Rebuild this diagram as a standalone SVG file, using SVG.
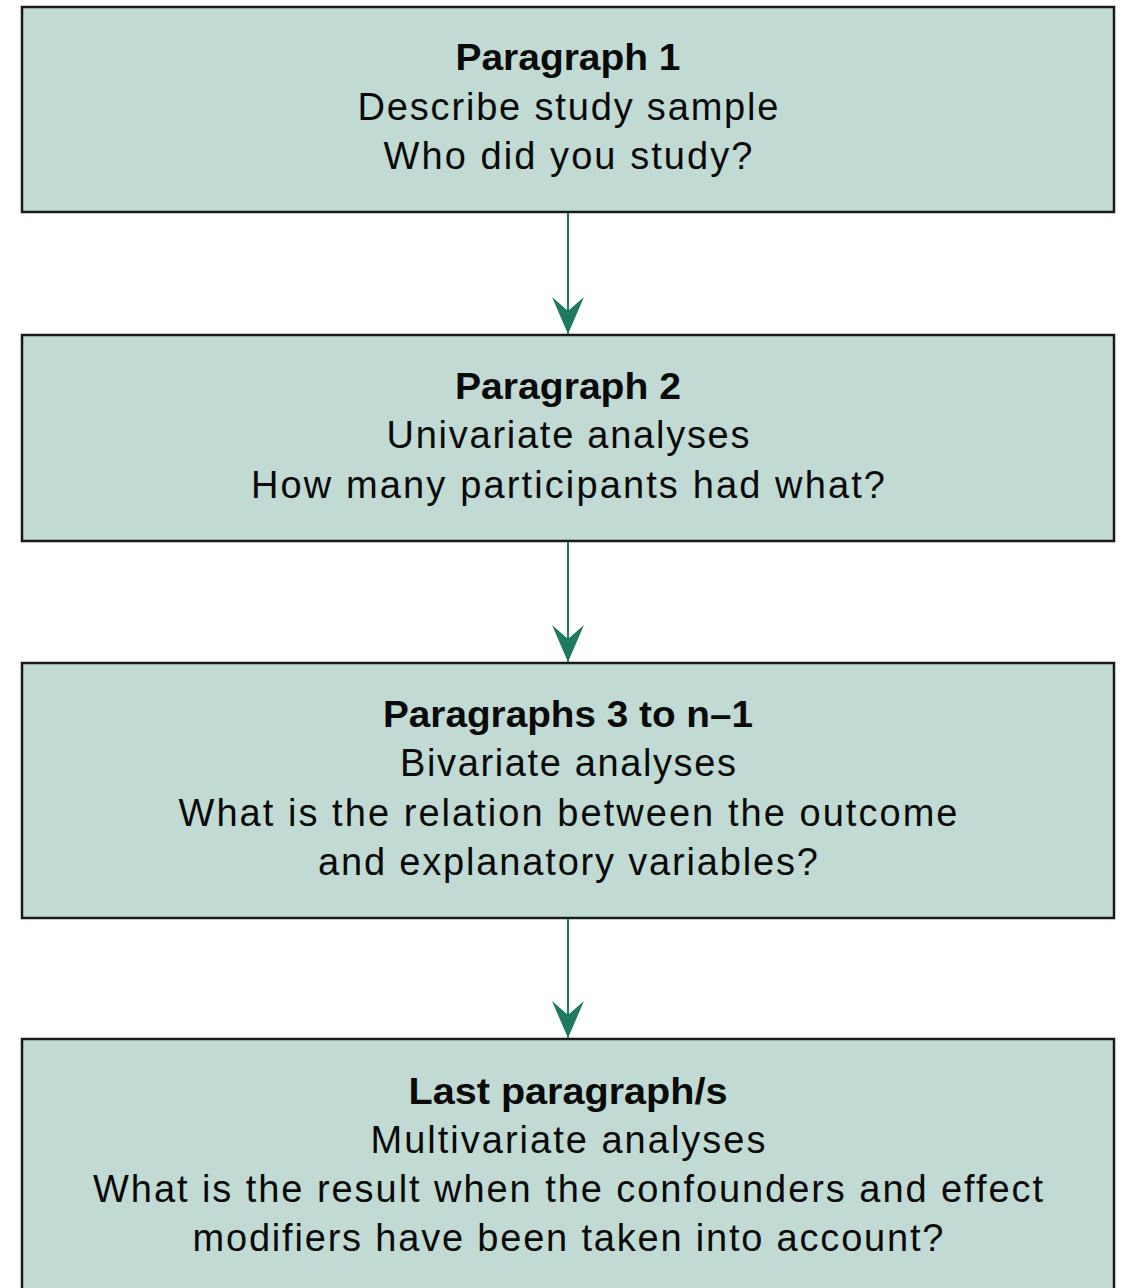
<svg xmlns="http://www.w3.org/2000/svg" width="1125" height="1288" viewBox="0 0 1125 1288">
<style>
.box{fill:#c1dbd4;stroke:#1a1a1a;stroke-width:2.5}
.t{font-family:"Liberation Sans",Arial,sans-serif;font-size:38px;fill:#0a0a0a;text-anchor:middle}
.b{font-weight:bold;font-size:37px}
.conn{stroke:#1e7a5e;stroke-width:2;fill:none}
</style>
<defs>
<marker id="ah" markerUnits="userSpaceOnUse" viewBox="0 0 37 32" markerWidth="37" markerHeight="32" refX="37" refY="16" orient="auto">
<path d="M0,0 L37,16 L0,32 L14,16 Z" fill="#1e7a5e"/>
</marker>
</defs>
<rect width="1125" height="1288" fill="#ffffff"/>
<g id="node1">
<rect class="box" x="22" y="7" width="1092" height="205"/>
<text class="t b" x="568" y="70" textLength="225" lengthAdjust="spacingAndGlyphs">Paragraph 1</text>
<text class="t" x="568" y="120" textLength="421" lengthAdjust="spacing">Describe study sample</text>
<text class="t" x="568" y="169" textLength="369" lengthAdjust="spacing">Who did you study?</text>
</g>
<g id="node2">
<rect class="box" x="22" y="335" width="1092" height="206"/>
<text class="t b" x="568" y="399" textLength="226" lengthAdjust="spacingAndGlyphs">Paragraph 2</text>
<text class="t" x="568" y="448" textLength="363" lengthAdjust="spacing">Univariate analyses</text>
<text class="t" x="568" y="498" textLength="634" lengthAdjust="spacing">How many participants had what?</text>
</g>
<g id="node3">
<rect class="box" x="22" y="663" width="1092" height="255"/>
<text class="t b" x="568" y="727" textLength="370" lengthAdjust="spacingAndGlyphs">Paragraphs 3 to n–1</text>
<text class="t" x="568" y="776" textLength="336" lengthAdjust="spacing">Bivariate analyses</text>
<text class="t" x="568" y="826" textLength="779" lengthAdjust="spacing">What is the relation between the outcome</text>
<text class="t" x="568" y="875" textLength="500" lengthAdjust="spacing">and explanatory variables?</text>
</g>
<g id="node4">
<rect class="box" x="22" y="1039" width="1092" height="270"/>
<text class="t b" x="568" y="1104" textLength="319" lengthAdjust="spacingAndGlyphs">Last paragraph/s</text>
<text class="t" x="568" y="1153" textLength="395" lengthAdjust="spacing">Multivariate analyses</text>
<text class="t" x="568" y="1202" textLength="950" lengthAdjust="spacing">What is the result when the confounders and effect</text>
<text class="t" x="568" y="1251" textLength="751" lengthAdjust="spacing">modifiers have been taken into account?</text>
</g>
<g id="connectors">
<line class="conn" x1="568" y1="213" x2="568" y2="334" marker-end="url(#ah)"/>
<line class="conn" x1="568" y1="542" x2="568" y2="662" marker-end="url(#ah)"/>
<line class="conn" x1="568" y1="919" x2="568" y2="1038" marker-end="url(#ah)"/>
</g>
</svg>
